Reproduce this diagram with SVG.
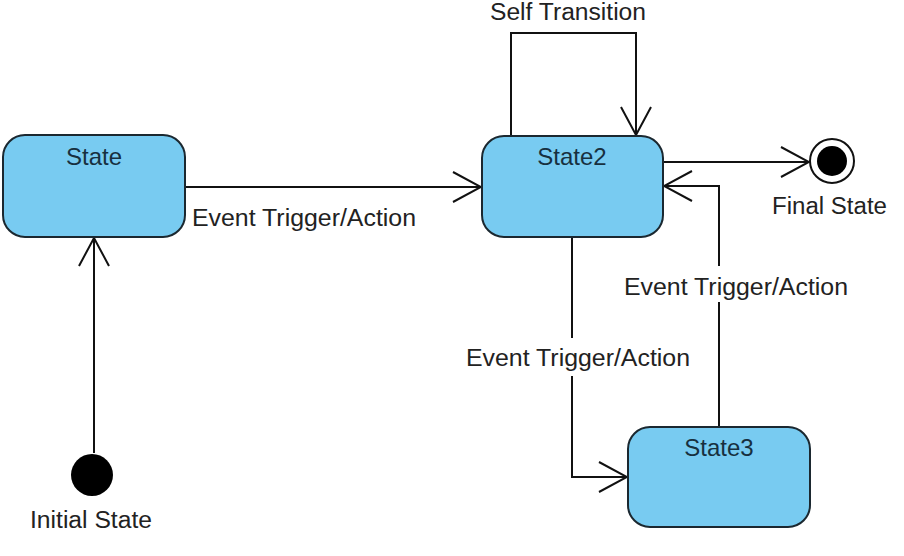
<svg xmlns="http://www.w3.org/2000/svg" width="904" height="556" viewBox="0 0 904 556">
<style>
.state{fill:#78CBF1;stroke:#1B2830;stroke-width:2}
.name{font-family:"Liberation Sans",Arial,sans-serif;font-size:24px;fill:#17303F;text-anchor:middle}
.lbl{font-family:"Liberation Sans",Arial,sans-serif;font-size:23px;fill:#222}
.edge{fill:none;stroke:#111;stroke-width:2}
.bg{fill:#fff}
</style>
<defs>
<marker id="open" viewBox="0 0 30 32" refX="29" refY="16" markerWidth="30" markerHeight="32" markerUnits="userSpaceOnUse" orient="auto">
<path d="M1,1 L29,16 L1,31" fill="none" stroke="#111" stroke-width="2"/>
</marker>
</defs>
<rect width="904" height="556" fill="#fff"/>
<g id="connectors">
<path class="edge" d="M185,187 H481" marker-end="url(#open)"/>
<path class="edge" d="M511,136 V33 H636 V135" marker-end="url(#open)"/>
<path class="edge" d="M663,162 H809" marker-end="url(#open)"/>
<path class="edge" d="M719,427 V186 H664" marker-end="url(#open)"/>
<path class="edge" d="M572,237 V477 H627" marker-end="url(#open)"/>
<path class="edge" d="M94,453 V238" marker-end="url(#open)"/>
<rect class="bg" x="622" y="266" width="230" height="36"/>
<rect class="bg" x="464" y="338" width="230" height="38"/>
<text class="lbl" x="192" y="226" textLength="224" lengthAdjust="spacingAndGlyphs">Event Trigger/Action</text>
<text class="lbl" x="490" y="20" font-size="22" textLength="156" lengthAdjust="spacingAndGlyphs">Self Transition</text>
<text class="lbl" x="624" y="295" textLength="224" lengthAdjust="spacingAndGlyphs">Event Trigger/Action</text>
<text class="lbl" x="466" y="366" textLength="224" lengthAdjust="spacingAndGlyphs">Event Trigger/Action</text>
</g>
<g id="initial">
<circle cx="92" cy="475" r="21" fill="#000"/>
<text class="lbl" x="30" y="528" textLength="122" lengthAdjust="spacingAndGlyphs">Initial State</text>
</g>
<g id="state">
<rect class="state" x="3" y="135" width="182" height="102" rx="22"/>
<text class="name" x="94" y="165">State</text>
</g>
<g id="state2">
<rect class="state" x="482" y="136" width="181" height="101" rx="22"/>
<text class="name" x="572" y="165">State2</text>
</g>
<g id="state3">
<rect class="state" x="628" y="427" width="182" height="100" rx="22"/>
<text class="name" x="719" y="456">State3</text>
</g>
<g id="final">
<circle cx="832" cy="161" r="22" fill="#fff" stroke="#111" stroke-width="2"/>
<circle cx="832" cy="161" r="15" fill="#000"/>
<text class="lbl" x="772" y="214" textLength="115" lengthAdjust="spacingAndGlyphs">Final State</text>
</g>
</svg>
